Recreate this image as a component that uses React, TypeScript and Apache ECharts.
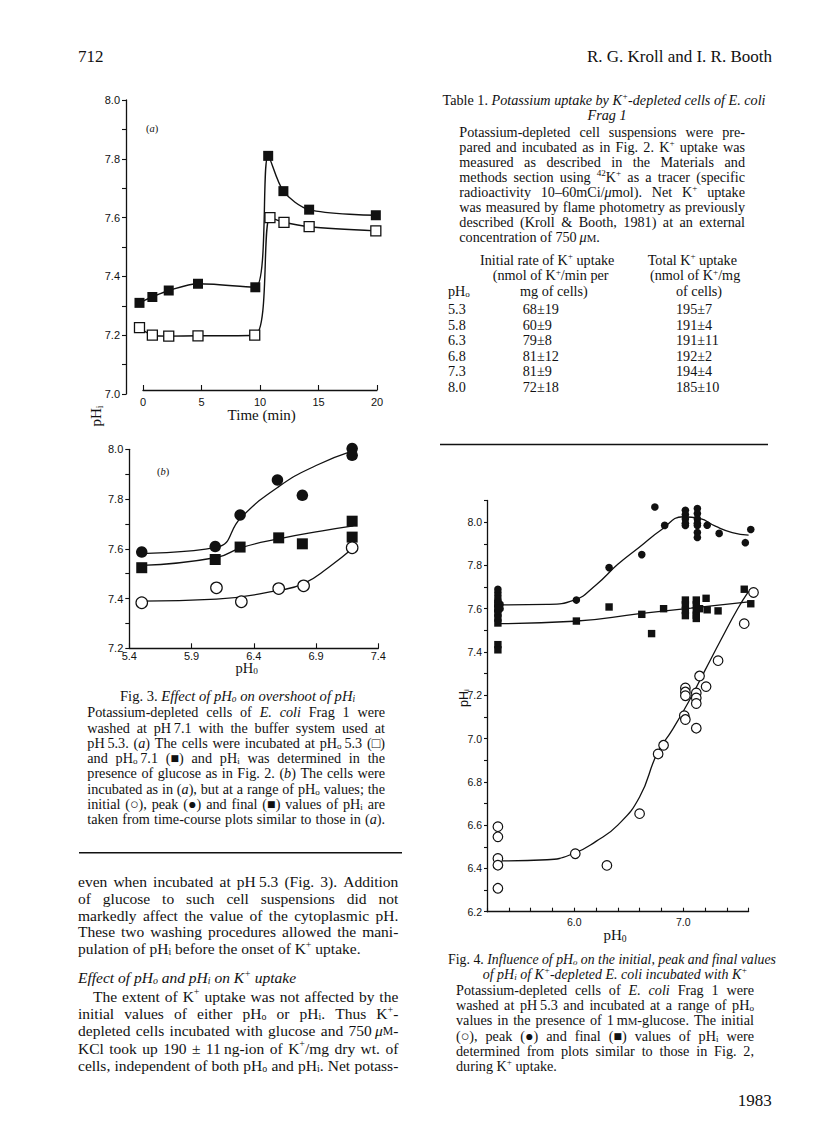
import React, { useEffect, useRef } from "react";
import * as echarts from "echarts";

const INK = "#111111";
const SERIF = '"Liberation Serif", "Times New Roman", serif';
const SANS = '"Liberation Sans", Arial, sans-serif';

// ---------------- Fig. 3(a): pHi vs time ----------------
const fig3aXTicks = [0, 5, 10, 15, 20];
const fig3aYLabels = [7.0, 7.2, 7.4, 7.6, 7.8, 8.0];
const fig3aYTicks = [7.0, 7.1, 7.2, 7.3, 7.4, 7.5, 7.6, 7.7, 7.8, 7.9, 8.0];
const fig3aFilledTime = [-0.3, 0.8, 2.2, 4.7, 9.6, 10.7, 12.0, 14.2, 19.9];
const fig3aFilledPHi = [7.31, 7.33, 7.352, 7.375, 7.363, 7.81, 7.69, 7.627, 7.608];
const fig3aOpenTime = [-0.3, 0.8, 2.2, 4.7, 9.55, 10.85, 12.05, 14.2, 19.9];
const fig3aOpenPHi = [7.226, 7.2, 7.197, 7.198, 7.2, 7.6, 7.584, 7.569, 7.555];

// ---------------- Fig. 3(b): pHi vs pHo ----------------
const fig3bXLabels = [5.4, 5.9, 6.4, 6.9, 7.4];
const fig3bYLabels = [7.2, 7.4, 7.6, 7.8, 8.0];
const fig3bYTicks = [7.2, 7.3, 7.4, 7.5, 7.6, 7.7, 7.8, 7.9, 8.0];
const fig3bPeakPHo = [5.5, 6.09, 6.29, 6.59, 6.79, 7.19, 7.19];
const fig3bPeakPHi = [7.587, 7.609, 7.736, 7.877, 7.815, 8.003, 7.976];
const fig3bFinalPHo = [5.5, 6.09, 6.29, 6.6, 6.79, 7.19, 7.19];
const fig3bFinalPHi = [7.524, 7.557, 7.607, 7.644, 7.62, 7.711, 7.647];
const fig3bInitPHo = [5.5, 6.1, 6.3, 6.6, 6.8, 7.19];
const fig3bInitPHi = [7.383, 7.443, 7.387, 7.44, 7.451, 7.604];
const fig3bPeakFitPHo = [5.5, 6.1, 6.3, 6.6, 6.9, 7.2];
const fig3bPeakFitPHi = [7.582, 7.606, 7.727, 7.85, 7.935, 7.995];
const fig3bFinalFitPHo = [5.5, 6.1, 6.3, 6.6, 6.95, 7.2];
const fig3bFinalFitPHi = [7.533, 7.565, 7.605, 7.64, 7.672, 7.692];
const fig3bInitFitPHo = [5.5, 6.1, 6.6, 6.8, 7.0, 7.2];
const fig3bInitFitPHi = [7.39, 7.398, 7.433, 7.46, 7.525, 7.604];

// ---------------- Fig. 4: pHi vs pHo ----------------
const fig4XTicks = [5.2, 5.4, 5.6, 5.8, 6.0, 6.2, 6.4, 6.6, 6.8, 7.0, 7.2, 7.4, 7.6];
const fig4XLabels = [6.0, 7.0];
const fig4YTicks = [6.2, 6.3, 6.4, 6.5, 6.6, 6.7, 6.8, 6.9, 7.0, 7.1, 7.2, 7.3, 7.4, 7.5, 7.6, 7.7, 7.8, 7.9, 8.0, 8.1];
const fig4YLabels = [6.2, 6.4, 6.6, 6.8, 7.0, 7.2, 7.4, 7.6, 7.8, 8.0];
const fig4PeakPHo = [5.3, 5.3, 5.3, 5.3, 5.3, 5.3, 5.3, 5.32, 5.32, 6.02, 6.32, 6.62, 6.74, 6.83, 7.02, 7.02, 7.02, 7.02, 7.02, 7.13, 7.13, 7.13, 7.13, 7.13, 7.13, 7.13, 7.22, 7.33, 7.57, 7.62];
const fig4PeakPHi = [7.69, 7.675, 7.66, 7.645, 7.63, 7.61, 7.59, 7.62, 7.6, 7.64, 7.79, 7.85, 8.07, 7.985, 8.055, 8.035, 8.015, 7.995, 7.985, 8.063, 8.04, 8.015, 7.995, 7.985, 7.952, 7.929, 7.986, 7.948, 7.905, 7.966];
const fig4FinalPHo = [5.3, 5.3, 5.3, 5.3, 5.3, 5.3, 5.3, 6.02, 6.32, 6.62, 6.71, 6.82, 7.02, 7.02, 7.02, 7.02, 7.12, 7.12, 7.12, 7.12, 7.12, 7.15, 7.21, 7.22, 7.32, 7.56, 7.62];
const fig4FinalPHi = [7.625, 7.603, 7.58, 7.557, 7.534, 7.434, 7.41, 7.543, 7.608, 7.574, 7.485, 7.6, 7.64, 7.618, 7.592, 7.568, 7.64, 7.618, 7.59, 7.57, 7.555, 7.6, 7.648, 7.595, 7.59, 7.69, 7.623];
const fig4InitPHo = [5.3, 5.3, 5.3, 5.3, 5.3, 6.01, 6.3, 6.6, 6.77, 6.82, 7.01, 7.02, 7.02, 7.02, 7.02, 7.12, 7.12, 7.12, 7.12, 7.15, 7.21, 7.32, 7.56, 7.645];
const fig4InitPHi = [6.593, 6.546, 6.446, 6.415, 6.308, 6.468, 6.414, 6.653, 6.929, 6.969, 7.106, 7.088, 7.234, 7.215, 7.198, 7.211, 7.188, 7.162, 7.048, 7.289, 7.24, 7.36, 7.531, 7.675];
const fig4PeakFitPHo = [5.3, 5.75, 6.0, 6.2, 6.4, 6.6, 6.8, 7.0, 7.15, 7.3, 7.45, 7.6];
const fig4PeakFitPHi = [7.618, 7.62, 7.64, 7.71, 7.805, 7.885, 7.965, 8.025, 8.017, 7.98, 7.952, 7.94];
const fig4FinalFitPHo = [5.3, 6.0, 6.6, 7.07, 7.6];
const fig4FinalFitPHi = [7.531, 7.542, 7.577, 7.603, 7.632];
const fig4InitFitPHo = [5.3, 5.75, 6.0, 6.2, 6.4, 6.6, 6.76, 6.9, 7.05, 7.2, 7.35, 7.5, 7.6];
const fig4InitFitPHi = [6.435, 6.44, 6.47, 6.525, 6.6, 6.73, 6.93, 7.04, 7.17, 7.315, 7.46, 7.6, 7.68];

// ---------------- Table 1 ----------------
const tablePHo = ["5.3", "5.8", "6.3", "6.8", "7.3", "8.0"];
const tableRate = [68, 60, 79, 81, 81, 72];
const tableRateSD = [19, 9, 8, 12, 9, 18];
const tableTotal = [195, 191, 191, 192, 194, 185];
const tableTotalSD = [7, 4, 11, 2, 4, 10];

// ---------------- Page text ----------------
const table1Paragraph = [
  "Potassium-depleted cell suspensions were pre-",
  "pared and incubated as in Fig. 2. K^{+} uptake was",
  "measured as described in the Materials and",
  "methods section using ^{42}K^{+} as a tracer (specific",
  "radioactivity 10–60mCi/*μ*mol). Net K^{+} uptake",
  "was measured by flame photometry as previously",
  "described (Kroll & Booth, 1981) at an external",
  "concentration of 750\u2009*μ*~{M}.",
];
const fig3Caption = [
  "Potassium-depleted cells of *E. coli* Frag 1 were",
  "washed at pH\u20097.1 with the buffer system used at",
  "pH\u20095.3. (*a*) The cells were incubated at pH_{o}\u20095.3 (□)",
  "and pH_{o}\u20097.1 (■) and pH_{i} was determined in the",
  "presence of glucose as in Fig. 2. (*b*) The cells were",
  "incubated as in (*a*), but at a range of pH_{o} values; the",
  "initial (○), peak (●) and final (■) values of pH_{i} are",
  "taken from time-course plots similar to those in (*a*).",
];
const bodyPara1 = [
  "even when incubated at pH\u20095.3 (Fig. 3). Addition",
  "of glucose to such cell suspensions did not",
  "markedly affect the value of the cytoplasmic pH.",
  "These two washing procedures allowed the mani-",
  "pulation of pH_{i} before the onset of K^{+} uptake.",
];
const bodyHeading = "*Effect of pH_{o} and pH_{i} on K^{+} uptake*";
const bodyPara2 = [
  "The extent of K^{+} uptake was not affected by the",
  "initial values of either pH_{o} or pH_{i}. Thus K^{+}-",
  "depleted cells incubated with glucose and 750\u2009*μ*~{M}-",
  "KCl took up 190 ± 11\u2009ng-ion of K^{+}/mg dry wt. of",
  "cells, independent of both pH_{o} and pH_{i}. Net potass-",
];
const fig4Caption = [
  "Potassium-depleted cells of *E. coli* Frag 1 were",
  "washed at pH\u20095.3 and incubated at a range of pH_{o}",
  "values in the presence of 1\u2009m~{M}-glucose. The initial",
  "(○), peak (●) and final (■) values of pH_{i} were",
  "determined from plots similar to those in Fig. 2,",
  "during K^{+} uptake.",
];

// ---------------- text layout helpers ----------------
type Run = { t: string; it: boolean; sh: number };
type Align = "left" | "right" | "center" | "justify";

function parseRuns(s: string): Run[] {
  const runs: Run[] = [];
  let it = false;
  let buf = "";
  const flush = () => {
    if (buf) runs.push({ t: buf, it, sh: 0 });
    buf = "";
  };
  for (let i = 0; i < s.length; i++) {
    const c = s[i];
    if (c === "*") {
      flush();
      it = !it;
      continue;
    }
    if ((c === "_" || c === "^" || c === "~") && s[i + 1] === "{") {
      flush();
      const end = s.indexOf("}", i + 2);
      runs.push({ t: s.slice(i + 2, end), it, sh: c === "_" ? 1 : c === "^" ? -1 : 2 });
      i = end;
      continue;
    }
    buf += c;
  }
  flush();
  return runs;
}

function toWords(runs: Run[]): Run[][] {
  const words: Run[][] = [[]];
  for (const r of runs) {
    const parts = r.t.split(" ");
    parts.forEach((p, k) => {
      if (k > 0) words.push([]);
      if (p) words[words.length - 1].push({ ...r, t: p });
    });
  }
  return words.filter((w) => w.length > 0);
}

function makeTextKit() {
  const cv = document.createElement("canvas");
  const ctx = cv.getContext("2d") as CanvasRenderingContext2D;
  const fontOf = (r: Run, size: number, fam: string) => {
    const sz = r.sh === 0 ? size : r.sh === 2 ? size * 0.76 : size * 0.64;
    return `${r.it ? "italic " : ""}${sz.toFixed(2)}px ${fam}`;
  };
  const wid = (t: string, f: string) => {
    ctx.font = f;
    return ctx.measureText(t).width;
  };
  function line(s: string, x0: number, y: number, align: Align, size: number, x1 = 0, fam = SERIF): any[] {
    const words = toWords(parseRuns(s));
    const fonts = words.map((wd) => wd.map((r) => fontOf(r, size, fam)));
    const widths = words.map((wd, i) => wd.reduce((a, r, j) => a + wid(r.t, fonts[i][j]), 0));
    const total = widths.reduce((a, b) => a + b, 0);
    const sp = wid(" ", `${size}px ${fam}`);
    let gap = sp;
    let x = x0;
    const natural = total + sp * (words.length - 1);
    if (align === "justify" && words.length > 1) gap = (x1 - x0 - total) / (words.length - 1);
    else if (align === "center") x = x0 - natural / 2;
    else if (align === "right") x = x0 - natural;
    const els: any[] = [];
    words.forEach((wd, i) => {
      wd.forEach((r, j) => {
        const f = fonts[i][j];
        const dy = r.sh === 1 ? size * 0.22 : r.sh === -1 ? -size * 0.26 : r.sh === 2 ? size * 0.07 : 0;
        els.push({
          type: "text",
          x,
          y: y + dy,
          silent: true,
          style: { text: r.t, font: f, fill: INK, textAlign: "left", textVerticalAlign: "middle" },
        });
        x += wid(r.t, f);
      });
      x += gap;
    });
    return els;
  }
  return { line };
}

const pair = (xs: number[], ys: number[]) => xs.map((x, i) => [x, ys[i]]);

function axis(o: any) {
  return {
    type: "value",
    splitLine: { show: false },
    axisLine: { show: true, onZero: false, lineStyle: { color: INK, width: 1.3 } },
    ...o,
    axisTick: { show: true, length: 4, lineStyle: { color: INK, width: 1.1 }, ...(o.axisTick || {}) },
    axisLabel: {
      color: INK,
      fontFamily: SANS,
      fontSize: 11,
      formatter: (v: number) => v.toFixed(1),
      ...(o.axisLabel || {}),
    },
  };
}

function fitLine(idx: number, xs: number[], ys: number[]) {
  return {
    type: "line",
    xAxisIndex: idx,
    yAxisIndex: idx,
    data: pair(xs, ys),
    smooth: 0.5,
    symbol: "none",
    lineStyle: { color: INK, width: 1.3 },
    clip: false,
    silent: true,
    z: 2,
  };
}

function points(idx: number, xs: number[], ys: number[], symbol: string, size: number, open: boolean) {
  return {
    type: "scatter",
    xAxisIndex: idx,
    yAxisIndex: idx,
    data: pair(xs, ys),
    symbol,
    symbolSize: size,
    itemStyle: open ? { color: "#ffffff", borderColor: INK, borderWidth: 1.2, opacity: 1 } : { color: INK, opacity: 1 },
    clip: false,
    silent: true,
    z: 3,
  };
}

function buildOption() {
  const kit = makeTextKit();
  const L = kit.line;
  const els: any[] = [];

  // header
  els.push(...L("712", 78, 56, "left", 17));
  els.push(...L("R. G. Kroll and I. R. Booth", 772, 56, "right", 17));

  // Table 1 caption
  els.push(...L("Table 1. *Potassium uptake by K^{+}-depleted cells of E. coli*", 604, 100, "center", 14.2));
  els.push(...L("*Frag 1*", 607, 114.5, "center", 14.2));
  table1Paragraph.forEach((s, i) => {
    const last = i === table1Paragraph.length - 1;
    els.push(...L(s, 459.3, 131.5 + i * 15.05, last ? "left" : "justify", 14.2, 745));
  });
  // Table header
  els.push(...L("Initial rate of K^{+} uptake", 480, 260, "left", 14.2));
  els.push(...L("Total K^{+} uptake", 647.7, 260, "left", 14.2));
  els.push(...L("(nmol of K^{+}/min per", 492.7, 275.3, "left", 14.2));
  els.push(...L("(nmol of K^{+}/mg", 650, 275.3, "left", 14.2));
  els.push(...L("pH_{o}", 448, 290.7, "left", 14.2));
  els.push(...L("mg of cells)", 520, 290.7, "left", 14.2));
  els.push(...L("of cells)", 676, 290.7, "left", 14.2));
  tablePHo.forEach((p, i) => {
    const y = 309.3 + i * 15.47;
    els.push(...L(p, 448, y, "left", 14.2));
    els.push(...L(`${tableRate[i]}±${tableRateSD[i]}`, 522.7, y, "left", 14.2));
    els.push(...L(`${tableTotal[i]}±${tableTotalSD[i]}`, 676, y, "left", 14.2));
  });
  els.push({ type: "line", silent: true, shape: { x1: 440, y1: 444.5, x2: 768, y2: 444.5 }, style: { stroke: INK, lineWidth: 1.6 } });

  // Fig. 3 labels
  els.push(...L("(*a*)", 152, 128, "center", 10.5));
  els.push(...L("(*b*)", 163, 471.7, "center", 10.5));
  els.push(...L("Time (min)", 261.7, 415, "center", 15));
  els.push(...L("pH_{0}", 246.7, 668, "center", 14.5));
  els.push({ type: "group", x: 96, y: 416, rotation: Math.PI / 2, children: L("pH_{i}", 0, 0, "center", 15) });

  // Fig. 3 caption
  els.push(...L("Fig. 3. *Effect of pH_{o} on overshoot of pH_{i}*", 237.5, 696, "center", 14.6));
  fig3Caption.forEach((s, i) => {
    els.push(...L(s, 87.3, 712.3 + i * 15.28, "justify", 14.2, 385));
  });
  els.push({ type: "line", silent: true, shape: { x1: 79, y1: 852.7, x2: 402, y2: 852.7 }, style: { stroke: INK, lineWidth: 1.6 } });

  // body text
  const b1y = [881.7, 898.3, 915, 931.7, 948.3];
  bodyPara1.forEach((s, i) => {
    const last = i === bodyPara1.length - 1;
    els.push(...L(s, 78, b1y[i], last ? "left" : "justify", 15.5, 398.3));
  });
  els.push(...L(bodyHeading, 78, 977.3, "left", 15.5));
  const b2y = [996, 1013.3, 1030.7, 1048, 1065];
  bodyPara2.forEach((s, i) => {
    els.push(...L(s, i === 0 ? 93 : 78, b2y[i], "justify", 15.5, 398.3));
  });

  // Fig. 4 labels
  els.push(...L("pH_{0}", 615, 935, "center", 15));
  els.push({ type: "group", x: 464, y: 698, rotation: Math.PI / 2, children: L("pH_{i}", 0, 0, "center", 12.5, 0, SANS) });

  // Fig. 4 caption
  els.push(...L("Fig. 4. *Influence of pH_{o} on the initial, peak and final values*", 612, 959, "center", 13.8));
  els.push(...L("*of pH_{i} of K^{+}-depleted E. coli incubated with K^{+}*", 615, 974, "center", 14));
  fig4Caption.forEach((s, i) => {
    const last = i === fig4Caption.length - 1;
    els.push(...L(s, 456, 990 + i * 15.2, last ? "left" : "justify", 14.2, 754));
  });
  els.push(...L("1983", 771.7, 1100, "right", 17));

  return {
    animation: false,
    backgroundColor: "#ffffff",
    grid: [
      { left: 143, top: 100, width: 234, height: 294 },
      { left: 129.3, top: 449.3, width: 249, height: 199 },
      { left: 487, top: 500.5, width: 261.6, height: 411.2 },
    ],
    xAxis: [
      axis({
        gridIndex: 0,
        min: 0,
        max: 20,
        offset: -4,
        axisTick: { inside: true, length: 5, customValues: fig3aXTicks },
        axisLabel: { customValues: fig3aXTicks, margin: 6, formatter: (v: number) => String(v) },
      }),
      axis({
        gridIndex: 1,
        min: 5.4,
        max: 7.4,
        axisTick: { inside: true, length: 5, customValues: fig3bXLabels },
        axisLabel: { customValues: fig3bXLabels, margin: 2 },
      }),
      axis({
        gridIndex: 2,
        min: 5.2,
        max: 7.6,
        axisTick: { inside: true, length: 4, customValues: fig4XTicks },
        axisLabel: { customValues: fig4XLabels, margin: 5, fontSize: 10.5 },
      }),
    ],
    yAxis: [
      axis({
        gridIndex: 0,
        min: 7.0,
        max: 8.0,
        offset: 17,
        axisTick: { customValues: fig3aYTicks },
        axisLabel: { customValues: fig3aYLabels, margin: 6 },
      }),
      axis({
        gridIndex: 1,
        min: 7.2,
        max: 8.0,
        axisTick: { customValues: fig3bYTicks },
        axisLabel: { customValues: fig3bYLabels, margin: 6 },
      }),
      axis({
        gridIndex: 2,
        min: 6.2,
        max: 8.1,
        axisTick: { customValues: fig4YTicks, length: 3 },
        axisLabel: { customValues: fig4YLabels, margin: 5, fontSize: 10.5 },
      }),
    ],
    series: [
      {
        type: "line",
        xAxisIndex: 0,
        yAxisIndex: 0,
        data: pair(fig3aOpenTime, fig3aOpenPHi),
        smooth: 0.3,
        symbol: "rect",
        symbolSize: 10,
        showSymbol: true,
        itemStyle: { color: "#ffffff", borderColor: INK, borderWidth: 1.3 },
        lineStyle: { color: INK, width: 1.4 },
        clip: false,
        silent: true,
        z: 3,
      },
      {
        type: "line",
        xAxisIndex: 0,
        yAxisIndex: 0,
        data: pair(fig3aFilledTime, fig3aFilledPHi),
        smooth: 0.3,
        symbol: "rect",
        symbolSize: 10,
        showSymbol: true,
        itemStyle: { color: INK },
        lineStyle: { color: INK, width: 1.4 },
        clip: false,
        silent: true,
        z: 3,
      },
      fitLine(1, fig3bPeakFitPHo, fig3bPeakFitPHi),
      fitLine(1, fig3bFinalFitPHo, fig3bFinalFitPHi),
      fitLine(1, fig3bInitFitPHo, fig3bInitFitPHi),
      points(1, fig3bPeakPHo, fig3bPeakPHi, "circle", 11.5, false),
      points(1, fig3bFinalPHo, fig3bFinalPHi, "rect", 11, false),
      points(1, fig3bInitPHo, fig3bInitPHi, "circle", 11.5, true),
      fitLine(2, fig4PeakFitPHo, fig4PeakFitPHi),
      fitLine(2, fig4FinalFitPHo, fig4FinalFitPHi),
      fitLine(2, fig4InitFitPHo, fig4InitFitPHi),
      points(2, fig4PeakPHo, fig4PeakPHi, "circle", 7.6, false),
      points(2, fig4FinalPHo, fig4FinalPHi, "rect", 7.4, false),
      points(2, fig4InitPHo, fig4InitPHi, "circle", 9.6, true),
    ],
    graphic: { elements: els },
  };
}

export default function App() {
  const ref = useRef<HTMLDivElement>(null);
  useEffect(() => {
    const chart = echarts.init(ref.current as HTMLDivElement, null, { renderer: "svg" });
    chart.setOption(buildOption() as any);
    return () => chart.dispose();
  }, []);
  return (
    <div
      ref={ref}
      style={{ position: "absolute", left: 0, top: 0, width: 816, height: 1136, background: "#ffffff" }}
    />
  );
}
